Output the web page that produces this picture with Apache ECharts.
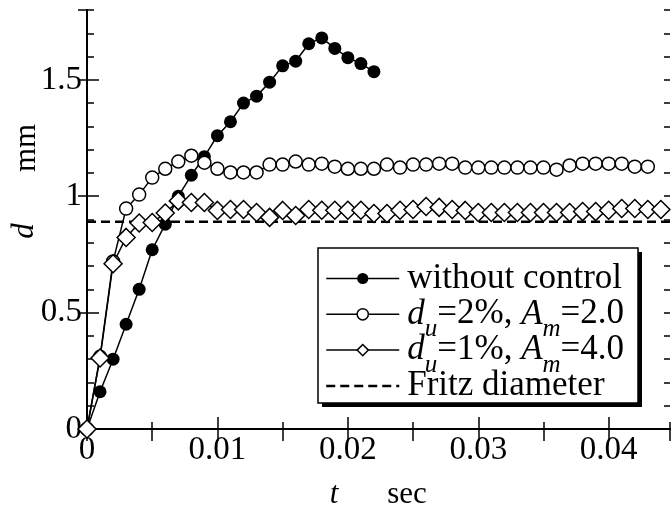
<!DOCTYPE html>
<html>
<head>
<meta charset="utf-8">
<script src="https://cdn.jsdelivr.net/npm/echarts@6/dist/echarts.min.js"></script>
<style>
html, body { margin: 0; padding: 0; background: #fff; }
#chart { width: 672px; height: 511px; }
</style>
</head>
<body>
<div id="chart"></div>
<script>
// time, sec
const times = [0, 0.001, 0.002, 0.003, 0.004, 0.005, 0.006, 0.007, 0.008, 0.009,
  0.010, 0.011, 0.012, 0.013, 0.014, 0.015, 0.016, 0.017, 0.018, 0.019,
  0.020, 0.021, 0.022, 0.023, 0.024, 0.025, 0.026, 0.027, 0.028, 0.029,
  0.030, 0.031, 0.032, 0.033, 0.034, 0.035, 0.036, 0.037, 0.038, 0.039,
  0.040, 0.041, 0.042, 0.043, 0.044]
// bubble diameter, mm
const dNoControl = [0, 0.16, 0.30, 0.45, 0.60, 0.77, 0.88, 1.00, 1.09, 1.17,
  1.26, 1.32, 1.40, 1.43, 1.49, 1.56, 1.58, 1.655, 1.68, 1.635,
  1.595, 1.57, 1.535]
const dCtrl2 = [0, 0.31, 0.72, 0.947, 1.007, 1.08, 1.118, 1.149, 1.174, 1.144,
  1.118, 1.102, 1.102, 1.102, 1.136, 1.136, 1.149, 1.136, 1.14, 1.127,
  1.118, 1.118, 1.118, 1.136, 1.123, 1.136, 1.136, 1.14, 1.14, 1.123,
  1.123, 1.123, 1.123, 1.123, 1.123, 1.123, 1.114, 1.132, 1.14, 1.14,
  1.14, 1.14, 1.127, 1.127]
const dCtrl1 = [0, 0.305, 0.71, 0.823, 0.885, 0.887, 0.928, 0.98, 0.973, 0.973,
  0.939, 0.943, 0.943, 0.93, 0.909, 0.939, 0.917, 0.943, 0.94, 0.94,
  0.94, 0.94, 0.926, 0.926, 0.94, 0.943, 0.956, 0.952, 0.943, 0.939,
  0.93, 0.93, 0.93, 0.93, 0.93, 0.93, 0.93, 0.93, 0.934, 0.934,
  0.94, 0.947, 0.947, 0.943, 0.943]
const fritzD = 0.89
const xRange = [0, 0.0447]
const yRange = [0, 1.8]
const names = ['without control', 'd_u=2%, A_m=2.0', 'd_u=1%, A_m=4.0', 'Fritz diameter']

const FONT = '"Liberation Serif", "Times New Roman", serif'

function pairs(vals) {
  return vals.map((v, i) => [times[i], v])
}

// every legend row gets the same line box: a spacer token with the subscript's padding
function legendLabel(name) {
  if (name.indexOf('_') < 0) return name + '{z|\u200b}'
  // d_u=2%, A_m=2.0 -> italic letters with subscripts
  return name.replace(/([A-Za-z])_([a-z])/g, '{i|$1}{s|$2}')
}

const chart = echarts.init(document.getElementById('chart'))

const majorTick = len => ({ show: true, inside: true, length: len, lineStyle: { color: '#000', width: 1.5 } })
const line = { show: true, lineStyle: { color: '#000', width: 2 } }
const noLabel = { show: false }

chart.setOption({
  animation: false,
  grid: [
    { left: 87, right: 2, top: 10, bottom: 82 },
    { left: 87, right: 2, top: 10, bottom: 82 },
  ],
  xAxis: [{
    gridIndex: 0, type: 'value', position: 'bottom',
    min: xRange[0], max: xRange[1], interval: 0.01,
    axisLine: line, axisTick: majorTick(12), splitLine: { show: false },
    axisLabel: { color: '#000', fontFamily: FONT, fontSize: 33, margin: 5, showMaxLabel: false },
  }, {
    gridIndex: 0, type: 'value', position: 'top',
    min: xRange[0], max: xRange[1], interval: 0.005,
    axisLine: line, axisTick: majorTick(12), splitLine: { show: false }, axisLabel: noLabel,
  }, {
    gridIndex: 1, type: 'value', position: 'bottom',
    min: xRange[0], max: xRange[1], interval: 0.005,
    axisLine: { show: false }, axisTick: majorTick(7), splitLine: { show: false }, axisLabel: noLabel,
  }],
  yAxis: [{
    gridIndex: 0, type: 'value', position: 'left',
    min: yRange[0], max: yRange[1], interval: 0.5,
    axisLine: line, axisTick: majorTick(12), splitLine: { show: false },
    axisLabel: { color: '#000', fontFamily: FONT, fontSize: 33, margin: 5, showMaxLabel: false },
  }, {
    gridIndex: 0, type: 'value', position: 'right',
    min: yRange[0], max: yRange[1], interval: 0.5,
    axisLine: line, axisTick: majorTick(9), splitLine: { show: false }, axisLabel: noLabel,
  }, {
    gridIndex: 1, type: 'value', position: 'left',
    min: yRange[0], max: yRange[1], interval: 0.1,
    axisLine: { show: false }, axisTick: majorTick(7), splitLine: { show: false }, axisLabel: noLabel,
  }, {
    gridIndex: 1, type: 'value', position: 'right',
    min: yRange[0], max: yRange[1], interval: 0.1,
    axisLine: { show: false }, axisTick: majorTick(6), splitLine: { show: false }, axisLabel: noLabel,
  }],
  legend: {
    orient: 'vertical', left: 325, top: 251, z: 10,
    padding: 0, itemGap: -19.2, itemWidth: 73, itemHeight: 14,
    itemStyle: { borderWidth: 1.5 },
    lineStyle: { width: 1.5 },
    formatter: legendLabel,
    textStyle: {
      fontFamily: FONT, fontSize: 35, color: '#000', lineHeight: 35, padding: [0, 0, 0, 3],
      rich: {
        i: { fontFamily: FONT, fontStyle: 'italic', fontSize: 35, lineHeight: 35 },
        s: { fontFamily: FONT, fontStyle: 'italic', fontSize: 25, lineHeight: 25, padding: [30, 0, 0, 0] },
        z: { fontFamily: FONT, fontSize: 25, lineHeight: 25, padding: [30, 0, 0, 0] },
      },
    },
    data: [names[0], names[1], names[2], {
      name: names[3],
      itemStyle: { color: 'rgba(0,0,0,0)', borderColor: 'rgba(0,0,0,0)' },
      lineStyle: { width: 2.5, type: [9, 5] },
    }],
  },
  graphic: [
    // legend frame with its drop shadow
    { type: 'rect', z: 8, shape: { x: 322, y: 252, width: 320, height: 155 }, style: { fill: '#000' } },
    { type: 'rect', z: 9, shape: { x: 318, y: 248, width: 320, height: 155 },
      style: { fill: '#fff', stroke: '#000', lineWidth: 1.5 } },
    { type: 'text', x: 25, y: 231, rotation: Math.PI / 2,
      style: { text: 'd', font: 'italic 31px ' + FONT, fill: '#000', align: 'center', verticalAlign: 'middle' } },
    { type: 'text', x: 27, y: 148, rotation: Math.PI / 2,
      style: { text: 'mm', font: '31px ' + FONT, fill: '#000', align: 'center', verticalAlign: 'middle' } },
    { type: 'text', x: 334, y: 495,
      style: { text: 't', font: 'italic 31px ' + FONT, fill: '#000', align: 'center', verticalAlign: 'middle' } },
    { type: 'text', x: 407, y: 495,
      style: { text: 'sec', font: '31px ' + FONT, fill: '#000', align: 'center', verticalAlign: 'middle' } },
  ],
  series: [{
    name: names[0], type: 'line', xAxisIndex: 0, yAxisIndex: 0,
    symbol: 'circle', symbolSize: 13,
    itemStyle: { color: '#000' },
    lineStyle: { color: '#000', width: 1.5 },
    data: pairs(dNoControl),
  }, {
    name: names[1], type: 'line', xAxisIndex: 0, yAxisIndex: 0,
    symbol: 'circle', symbolSize: 13,
    itemStyle: { color: '#fff', borderColor: '#000', borderWidth: 1.5 },
    lineStyle: { color: '#000', width: 1.5 },
    data: pairs(dCtrl2),
  }, {
    name: names[2], type: 'line', xAxisIndex: 0, yAxisIndex: 0,
    symbol: 'diamond', symbolSize: 18,
    itemStyle: { color: '#fff', borderColor: '#000', borderWidth: 1.5 },
    lineStyle: { color: '#000', width: 1.5 },
    data: pairs(dCtrl1),
  }, {
    name: names[3], type: 'line', xAxisIndex: 0, yAxisIndex: 0,
    symbol: 'none',
    lineStyle: { color: '#000', width: 2.5, type: [9, 5] },
    data: [[xRange[0], fritzD], [xRange[1], fritzD]],
  }],
})
</script>
</body>
</html>
